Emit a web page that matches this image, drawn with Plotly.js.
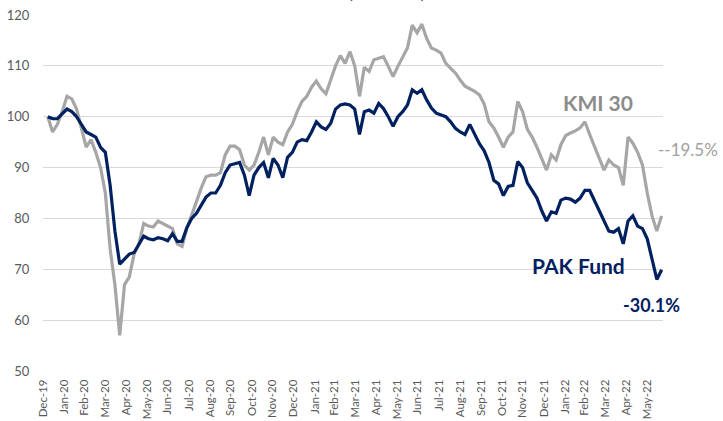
<!DOCTYPE html>
<html>
<head>
<meta charset="utf-8">
<script src="https://cdn.plot.ly/plotly-3.0.1.min.js"></script>
<style>html,body{margin:0;padding:0;background:#fff;}#chart{width:723px;height:421px;}</style>
</head>
<body>
<div id="chart"></div>
<script>
// Weekly observations starting 2020-01-07 (rebased to 100)
const startDate = '2020-01-07';
const stepDays = 7;

const pakFund = [
100,99.6,99.6,100.5,101.5,101,100,98.5,97,96.5,
96,94,93,86.5,77.5,71,72,73,73.3,75,
76.5,76,75.8,76.2,76,75.6,77,75.5,75.5,78.2,
80,81,82.5,84.2,85,85,86.5,89,90.5,90.8,
91,88.5,84.5,88.5,90,91,88,91.8,90.5,88,
92,93,95,95.5,95.3,97,99,98,97.5,98.7,
101.5,102.3,102.5,102.3,101.5,96.5,101,101.3,100.7,102.6,
101.6,100,98.1,100,101,102.3,105.3,104.6,105.3,103.3,
101.7,100.7,100.4,100,99,97.7,97,96.5,98.5,96.5,
94.7,93.3,91,87.5,86.8,84.5,86.3,86.5,91.2,90,
87,85.5,84,81.5,79.5,81.3,81,83.6,84,83.8,
83.2,84,85.5,85.5,83.5,81.5,79.5,77.5,77.3,78,
75,79.5,80.5,78.5,78,76,72,68,69.9
];

const kmi30 = [
100,97,98.5,101,104,103.5,101.5,97.5,94,95.5,
93,90,85,74,66.9,57,67,68.5,73,75,
79,78.5,78.3,79.5,79,78.5,78,75,74.5,78,
80.5,83.3,86,88.2,88.5,88.5,89,92.5,94.2,94.2,
93.5,90.5,89.5,90.5,93,96,92.5,96,95,94.5,
97,98.5,101,103,104,105.8,107,105.5,104.5,107.5,
110,112,110.5,112.8,110,104,109.7,108.9,111.2,111.5,
111.8,109.9,107.9,109.9,111.8,113.5,118,116.5,118.2,115.4,
113.5,113.1,112.5,110.5,109.5,108.6,107.2,106,105.5,105,
104.3,102.5,99,97.8,96,94,96,97,103,101,
97.5,96,94,91.8,89.5,92.5,91.5,94.5,96.3,96.8,
97.2,97.8,99,96.5,94,91.8,89.5,91.5,90.5,90,
86.5,96,94.8,93,90.5,85,80.5,77.5,80.5
];

const tickDates = ['2019-12-31','2020-01-31','2020-02-29','2020-03-31','2020-04-30','2020-05-31','2020-06-30','2020-07-31','2020-08-31','2020-09-30','2020-10-31','2020-11-30','2020-12-31','2021-01-31','2021-02-28','2021-03-31','2021-04-30','2021-05-31','2021-06-30','2021-07-31','2021-08-31','2021-09-30','2021-10-31','2021-11-30','2021-12-31','2022-01-31','2022-02-28','2022-03-31','2022-04-30','2022-05-31'];
const tickLabels = ['Dec-19','Jan-20','Feb-20','Mar-20','Apr-20','May-20','Jun-20','Jul-20','Aug-20','Sep-20','Oct-20','Nov-20','Dec-20','Jan-21','Feb-21','Mar-21','Apr-21','May-21','Jun-21','Jul-21','Aug-21','Sep-21','Oct-21','Nov-21','Dec-21','Jan-22','Feb-22','Mar-22','Apr-22','May-22'];

const seriesNames = ['KMI 30','PAK Fund'];
const endLabels = ['--19.5%','-30.1%'];

function buildDates(n){
  const out=[]; const d0=new Date(startDate+'T00:00:00Z');
  for(let i=0;i<n;i++){ const d=new Date(d0.getTime()+i*stepDays*86400000); out.push(d.toISOString().slice(0,10)); }
  return out;
}
const dates = buildDates(pakFund.length);

const GRAY='#a6a6a6', NAVY='#002060';
const traces=[
 {x:dates,y:kmi30,type:'scatter',mode:'lines',name:seriesNames[0],line:{color:GRAY,width:3.2},hoverinfo:'skip'},
 {x:dates,y:pakFund,type:'scatter',mode:'lines',name:seriesNames[1],line:{color:NAVY,width:3.2},hoverinfo:'skip'}
];

const layout={
 width:723,height:421,
 margin:{l:43,r:60,t:15,b:50,pad:0},
 paper_bgcolor:'#fff',plot_bgcolor:'#fff',
 showlegend:false,
 font:{family:'Lato, sans-serif',color:'#595959'},
 xaxis:{type:'date',range:['2019-12-31','2022-06-23'],tickmode:'array',tickvals:tickDates,ticktext:tickLabels,
   tickangle:-90,showgrid:false,zeroline:false,showline:false,ticks:'outside',ticklen:3,tickcolor:'rgba(0,0,0,0)',
   tickfont:{size:11.5,color:'#595959',family:'Lato, sans-serif'},fixedrange:true},
 yaxis:{range:[50,120],dtick:10,tick0:50,showgrid:true,gridcolor:'#d9d9d9',gridwidth:1,zeroline:false,showline:false,
   ticks:'outside',ticklen:10,tickcolor:'rgba(0,0,0,0)',tickfont:{size:13,color:'#595959',family:'Lato, sans-serif'},fixedrange:true},
 annotations:[
  {xref:'paper',yref:'paper',x:0.895,y:0.753,text:seriesNames[0],showarrow:false,xanchor:'center',yanchor:'middle',font:{family:'Lato, sans-serif',size:21,color:'#8c8c8c',weight:'bold'}},
  {xref:'paper',yref:'paper',x:0.863,y:0.295,text:seriesNames[1],showarrow:false,xanchor:'center',yanchor:'middle',font:{family:'Lato, sans-serif',size:21,color:NAVY,weight:'bold'}},
  {xref:'paper',yref:'paper',x:1.040,y:0.621,text:endLabels[0],showarrow:false,xanchor:'center',yanchor:'middle',font:{family:'Lato, sans-serif',size:17,color:'#a0a0a0'}},
  {xref:'paper',yref:'paper',x:0.982,y:0.185,text:endLabels[1],showarrow:false,xanchor:'center',yanchor:'middle',font:{family:'Lato, sans-serif',size:18,color:NAVY,weight:'bold'}},
  {xref:'paper',yref:'paper',x:0.555,y:1.03,text:'(Rebased)',showarrow:false,xanchor:'center',yanchor:'bottom',font:{family:'Lato, sans-serif',size:18,color:NAVY,weight:'bold'}}
 ]
};
Plotly.newPlot('chart',traces,layout,{staticPlot:true,displayModeBar:false});
</script>
</body>
</html>
